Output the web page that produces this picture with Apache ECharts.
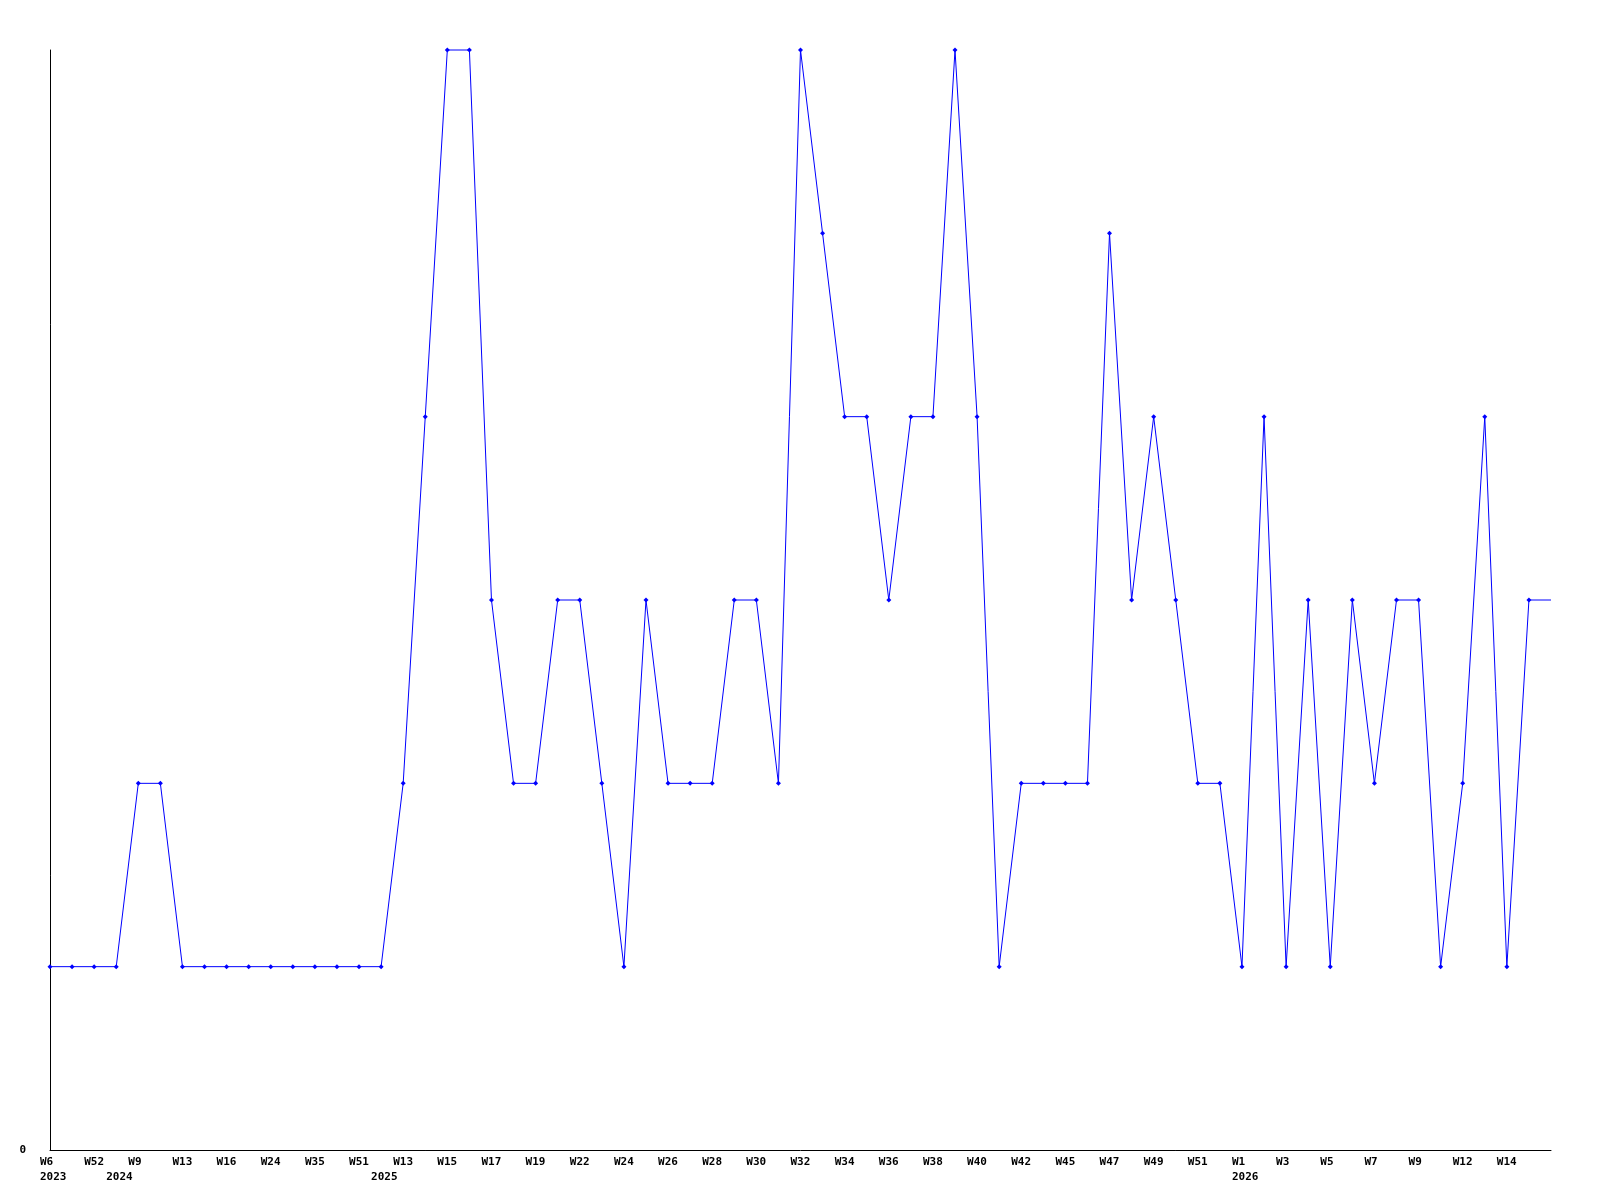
<!DOCTYPE html>
<html>
<head>
<meta charset="utf-8">
<title>Weekly count</title>
<script src="https://cdn.jsdelivr.net/npm/echarts@6/dist/echarts.min.js"></script>
<style>
  html, body { margin: 0; padding: 0; background: #fff; }
  #main { width: 1600px; height: 1200px; }
</style>
</head>
<body>
<div id="main"></div>
<script>
// week of each point (only every second one is printed on the axis)
var weeks = ['W6', 'W8', 'W52', 'W1', 'W9', 'W11', 'W13', 'W14', 'W16', 'W20',
  'W24', 'W30', 'W35', 'W45', 'W51', 'W10', 'W13', 'W14', 'W15', 'W16',
  'W17', 'W18', 'W19', 'W21', 'W22', 'W23', 'W24', 'W25', 'W26', 'W27',
  'W28', 'W29', 'W30', 'W31', 'W32', 'W33', 'W34', 'W35', 'W36', 'W37',
  'W38', 'W39', 'W40', 'W41', 'W42', 'W44', 'W45', 'W46', 'W47', 'W48',
  'W49', 'W50', 'W51', 'W52', 'W1', 'W2', 'W3', 'W4', 'W5', 'W6',
  'W7', 'W8', 'W9', 'W11', 'W12', 'W13', 'W14', 'W15', 'W16']

// year printed under the first point of each year
var years = ['2023', '', '', '2024', '', '', '', '', '', '',
  '', '', '', '', '', '2025', '', '', '', '',
  '', '', '', '', '', '', '', '', '', '',
  '', '', '', '', '', '', '', '', '', '',
  '', '', '', '', '', '', '', '', '', '',
  '', '', '', '', '2026', '', '', '', '', '',
  '', '', '', '', '', '', '', '', '']

var counts = [1, 1, 1, 1, 2, 2, 1, 1, 1, 1,
  1, 1, 1, 1, 1, 1, 2, 4, 6, 6,
  3, 2, 2, 3, 3, 2, 1, 3, 2, 2,
  2, 3, 3, 2, 6, 5, 4, 4, 3, 4,
  4, 6, 4, 1, 2, 2, 2, 2, 5, 3,
  4, 3, 2, 2, 1, 4, 1, 3, 1, 3,
  2, 3, 3, 1, 2, 4, 1, 3, 3]

var categories = weeks.map(function (w, i) { return i + ':' + w })
var lastIdx = counts.length - 1

var chart = echarts.init(document.getElementById('main'))

chart.setOption({
  animation: false,
  backgroundColor: '#ffffff',
  grid: {
    left: 50,
    right: 49,
    top: 50,
    bottom: 50
  },
  xAxis: {
    type: 'category',
    data: categories,
    boundaryGap: false,
    axisLine: { lineStyle: { color: '#000', width: 1 } },
    axisTick: { show: false },
    splitLine: { show: false },
    axisLabel: {
      interval: 0,
      margin: 5,
      color: '#000',
      fontFamily: 'DejaVu Sans Mono',
      fontWeight: 'bold',
      fontSize: 11,
      lineHeight: 15,
      formatter: function (value, index) {
        // the point at the axis end gets no label
        var w = (index % 2 === 0 && index !== lastIdx) ? weeks[index] : ' '
        var y = years[index] || ' '
        return '{a|' + w + '}\n{a|' + y + '}'
      },
      rich: {
        a: {
          width: 20,
          align: 'left',
          color: '#000',
          fontFamily: 'DejaVu Sans Mono',
          fontWeight: 'bold',
          fontSize: 11,
          lineHeight: 15
        }
      }
    }
  },
  yAxis: {
    type: 'value',
    min: 0,
    max: 6,
    interval: 6,
    axisLine: { show: true, lineStyle: { color: '#000', width: 1 } },
    axisTick: { show: false },
    splitLine: { show: false },
    axisLabel: {
      showMaxLabel: false,
      margin: 24,
      color: '#000',
      fontFamily: 'DejaVu Sans Mono',
      fontWeight: 'bold',
      fontSize: 11
    }
  },
  series: [
    {
      type: 'line',
      data: counts.map(function (v, i) {
        // the last point runs into the axis end and has no marker
        return i === lastIdx ? { value: v, symbolSize: 0 } : v
      }),
      symbol: 'diamond',
      symbolSize: 5,
      showSymbol: true,
      clip: false,
      lineStyle: { color: '#0000ff', width: 1 },
      itemStyle: { color: '#0000ff' }
    }
  ]
})
</script>
</body>
</html>
